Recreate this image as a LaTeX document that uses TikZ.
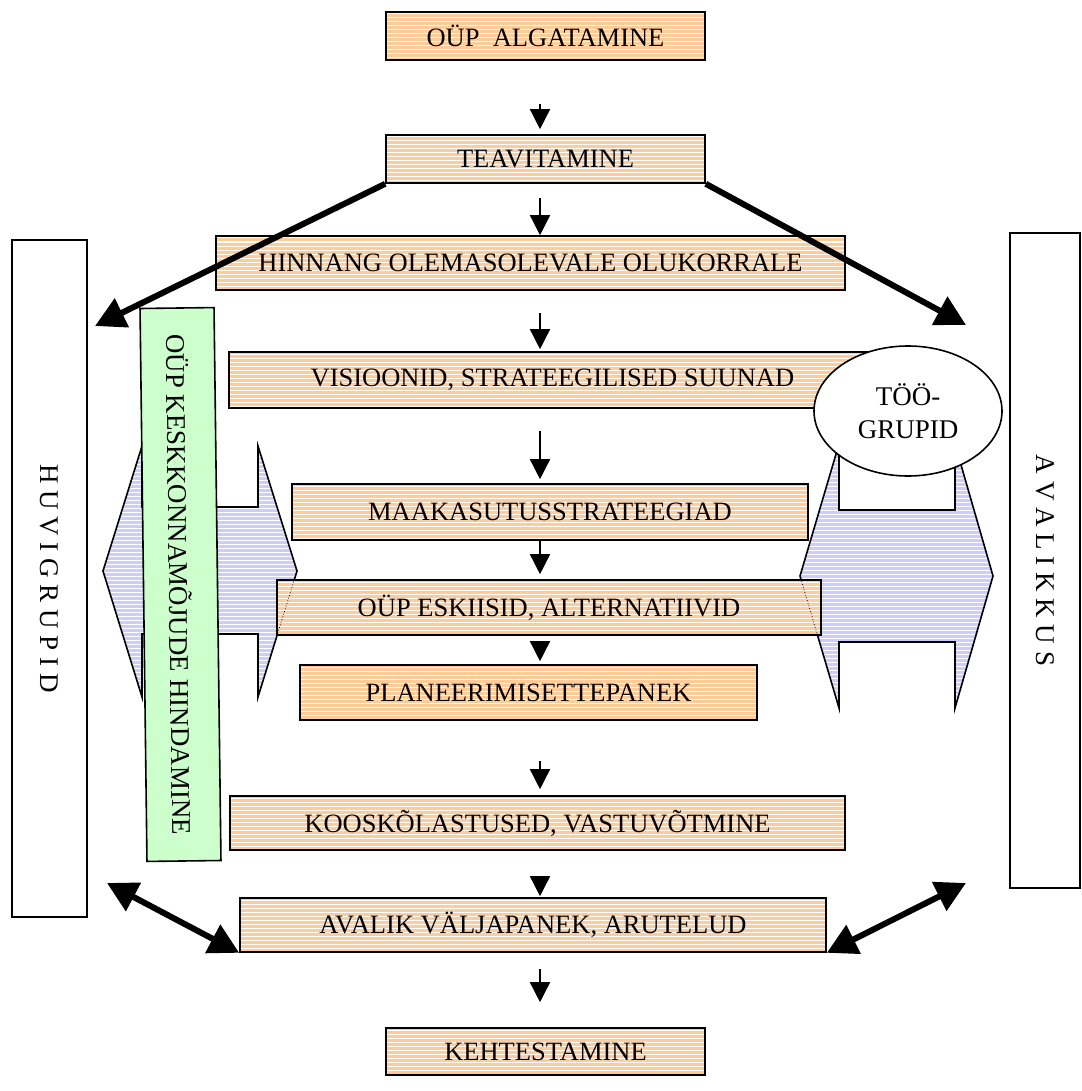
\documentclass[tikz,border=0pt]{standalone}
\usepackage{fontspec}
\setmainfont{Liberation Serif}
\usetikzlibrary{arrows.meta,shapes.geometric}
\definecolor{ofill}{HTML}{FFCC99}
\definecolor{bfill}{HTML}{CCCCFF}
\definecolor{gfill}{HTML}{CCFFCC}
\tikzset{
  stripes/.style={fill=#1, path picture={%
    \foreach \k in {2,6,...,298}{%
      \draw[white,line width=1pt] ([yshift=-\k pt]path picture bounding box.north west) -- ([yshift=-\k pt]path picture bounding box.north east);}}},
  txt/.style={font=\fontsize{26.5}{30}\selectfont},
  obox/.style={draw=black, line width=1.6pt, stripes=ofill, txt, inner sep=0pt},
  barrow/.style={draw=black, line width=1.6pt, stripes=bfill},
  tbox/.style={draw=black, line width=1.6pt, fill=white, font=\fontsize{27}{30}\selectfont, inner sep=0pt},
  gbox/.style={draw=black, line width=1.6pt, fill=gfill, font=\fontsize{27}{30}\selectfont, inner sep=0pt},
  sarrow/.style={line width=1.5pt, -{Triangle[length=20pt,width=20pt]}},
  barr/.style={line width=6pt, -{Triangle[length=30pt,width=31pt]}},
  dbarr/.style={line width=6pt, {Triangle[length=30pt,width=31pt]}-{Triangle[length=30pt,width=31pt]}}
}
\begin{document}
\begin{tikzpicture}[x=1pt,y=-1pt]
\useasboundingbox (0,0) rectangle (1081,1091);
\coordinate (ax) at (540,0);

% blue double arrows
\path[barrow] (103,571) -- (142,446) -- (142,507) -- (258,507) -- (258,446) -- (297,571)
  -- (258,697) -- (258,634) -- (142,634) -- (142,697) -- cycle;
\path[barrow] (800,576) -- (839,444) -- (839,510) -- (955,510) -- (955,444) -- (993,576)
  -- (955,708) -- (955,642) -- (839,642) -- (839,708) -- cycle;

% tall side boxes
\node[tbox, rotate=-90, minimum width=677pt, minimum height=75pt] (huvi) at (49.5,578.5) {H U V I G R U P I D};
\node[tbox, rotate=-90, minimum width=655pt, minimum height=70pt] (aval) at (1045,560.5) {A V A L I K K U S};

% green box
\node[gbox, rotate=-89.28, minimum width=553pt, minimum height=74pt] (keskk) at (180.5,584.5) {OÜP KESKKONNAMÕJUDE HINDAMINE};

% process boxes
\node[obox, minimum width=319pt, minimum height=48pt] (alg) at (545.5,36) {OÜP\ \ ALGATAMINE};
\node[obox, minimum width=319pt, minimum height=48pt] (tea) at (545.5,159) {TEAVITAMINE};
\node[obox, minimum width=629pt, minimum height=54pt] (hin) at (530.5,263) {HINNANG OLEMASOLEVALE OLUKORRALE};
\node[obox, minimum width=647pt, minimum height=56pt] (vis) at (552.5,380) {VISIOONID, STRATEEGILISED SUUNAD};
\node[obox, minimum width=516pt, minimum height=56pt] (maa) at (550,512) {MAAKASUTUSSTRATEEGIAD};
\node[obox, minimum width=544pt, minimum height=55pt] (esk) at (549,607.5) {OÜP ESKIISID, ALTERNATIIVID};
\begin{scope}
  \clip (esk.south west) rectangle (esk.north east);
  \draw[dotted, line width=0.8pt] (297,571) -- (258,697);
  \draw[dotted, line width=0.8pt] (800,576) -- (839,708);
\end{scope}
\node[obox, minimum width=457pt, minimum height=55pt] (pla) at (528.5,692.5) {PLANEERIMISETTEPANEK};
\node[obox, minimum width=615pt, minimum height=54pt] (koo) at (537.5,823) {KOOSKÕLASTUSED, VASTUVÕTMINE};
\node[obox, minimum width=586pt, minimum height=54pt] (ava) at (533,925) {AVALIK VÄLJAPANEK, ARUTELUD};
\node[obox, minimum width=319pt, minimum height=47pt] (keh) at (545.5,1051.5) {KEHTESTAMINE};

% ellipse
\node[ellipse, draw=black, line width=1.6pt, fill=white, minimum width=188pt, minimum height=130pt,
  align=center, font=\fontsize{27}{33}\selectfont, inner sep=0pt] (too) at (908,411) {TÖÖ-\\GRUPID};

% small arrows
\draw[sarrow, shorten <=43pt, shorten >=5pt] (alg.south -| ax) -- (tea.north -| ax);
\draw[sarrow, shorten <=14pt] (tea.south -| ax) -- (hin.north -| ax);
\draw[sarrow, shorten <=22pt, shorten >=2pt] (hin.south -| ax) -- (vis.north -| ax);
\draw[sarrow, shorten <=22pt, shorten >=4pt] (vis.south -| ax) -- (maa.north -| ax);
\draw[sarrow, shorten >=5pt] (maa.south -| ax) -- (esk.north -| ax);
\draw[sarrow, shorten <=5pt, shorten >=3pt] (esk.south -| ax) -- (pla.north -| ax);
\draw[sarrow, shorten <=40pt, shorten >=6pt] (pla.south -| ax) -- (koo.north -| ax);
\draw[sarrow, shorten <=33pt, shorten >=1pt] (koo.south -| ax) -- (ava.north -| ax);
\draw[sarrow, shorten <=16pt, shorten >=25pt] (ava.south -| ax) -- (keh.north -| ax);

% thick arrows
\coordinate (hl) at (95,326);
\coordinate (hr) at (966,325);
\coordinate (bl) at (107,883);
\coordinate (br) at (966,883);
\draw[barr] (tea.south west) -- (hl);
\draw[barr] (tea.south east) -- (hr);
\draw[dbarr] (bl) -- (ava.south west);
\draw[dbarr] (br) -- (ava.south east);
\end{tikzpicture}
\end{document}
